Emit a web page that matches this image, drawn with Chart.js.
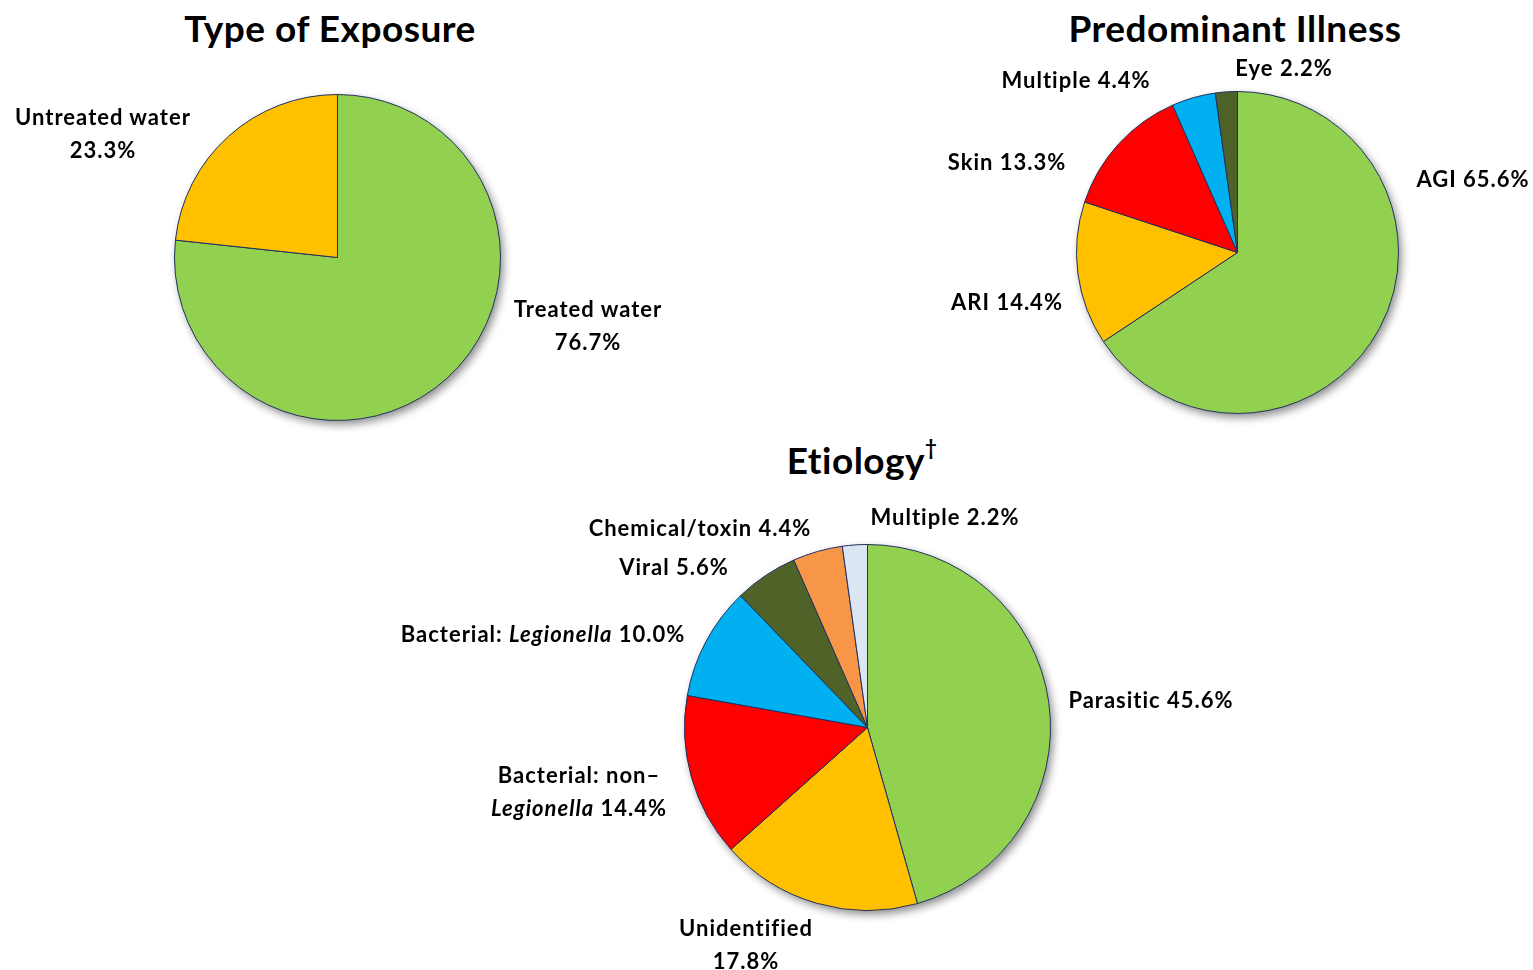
<!DOCTYPE html>
<html><head><meta charset="utf-8">
<script src="https://cdn.jsdelivr.net/npm/chart.js@4"></script>
<style>
html,body{margin:0;padding:0;background:#fff;width:1533px;height:970px;overflow:hidden;font-family:Lato,"Open Sans",sans-serif;}
canvas{position:absolute;}
.t{position:absolute;transform:translate(-50%,-50%);white-space:nowrap;font-weight:bold;color:#000;text-align:center;}
.title{font-size:37px;letter-spacing:0.5px;}
.lbl{font-size:22px;line-height:33px;letter-spacing:1px;}
sup{font-size:0.55em;vertical-align:top;position:relative;top:-2px;}
</style></head><body>
<script>
// ---- data ----
const exposureCats = ['Treated water', 'Untreated water'];
const exposureVals = [76.7, 23.3];
const illnessCats = ['AGI', 'ARI', 'Skin', 'Multiple', 'Eye'];
const illnessVals = [65.6, 14.4, 13.3, 4.4, 2.2];
const etiologyCats = ['Parasitic', 'Unidentified', 'Bacterial: non–Legionella', 'Bacterial: Legionella', 'Viral', 'Chemical/toxin', 'Multiple'];
const etiologyVals = [45.6, 17.8, 14.4, 10.0, 5.6, 4.4, 2.2];
const titles = ['Type of Exposure', 'Predominant Illness', 'Etiology'];

// ---- styles / layout ----
const exposureColors = ['#92D050', '#FFC000'];
const illnessColors = ['#92D050', '#FFC000', '#FF0000', '#00B0F0', '#4F6228'];
const etiologyColors = ['#92D050', '#FFC000', '#FF0000', '#00B0F0', '#4F6228', '#F79646', '#DCE6F2'];

const pies = [
  {id:'c1', cats:exposureCats, vals:exposureVals, colors:exposureColors, cx:337, cy:257, r:163,
   title:{x:330, y:27, sup:''},
   labels:[{x:588,y:325,brk:'value'},{x:103,y:133,brk:'value'}]},
  {id:'c2', cats:illnessCats, vals:illnessVals, colors:illnessColors, cx:1237, cy:252, r:161,
   title:{x:1235, y:27, sup:''},
   labels:[{x:1473,y:178},{x:1007,y:301},{x:1007,y:161},{x:1076,y:79},{x:1284,y:67}]},
  {id:'c3', cats:etiologyCats, vals:etiologyVals, colors:etiologyColors, cx:867, cy:727, r:183,
   title:{x:862, y:459, sup:'†'},
   labels:[{x:1151,y:699},{x:746,y:944,brk:'value'},{x:579,y:791,brk:'non–'},{x:543,y:633},{x:674,y:566},{x:700,y:527},{x:945,y:516}]}
];

const shadowPlugin = {
  id:'pieShadow',
  beforeDatasetsDraw(chart){
    const arc = chart.getDatasetMeta(0).data[0];
    if(!arc) return;
    const {x, y, outerRadius} = arc.getProps(['x','y','outerRadius'], true);
    const ctx = chart.ctx;
    ctx.save();
    ctx.shadowColor = 'rgba(0,0,0,0.45)';
    ctx.shadowBlur = 8;
    ctx.shadowOffsetX = 3;
    ctx.shadowOffsetY = 4;
    ctx.fillStyle = '#fff';
    ctx.beginPath();
    ctx.arc(x, y, outerRadius, 0, Math.PI*2);
    ctx.fill();
    ctx.restore();
  }
};

function esc(s){return s.replace(/&/g,'&amp;').replace(/</g,'&lt;');}
function fmt(cat, val, brk){
  let txt = esc(cat);
  const v = val.toFixed(1) + '%';
  let html;
  if(brk === 'value') html = txt + '<br>' + v;
  else if(brk) html = txt.replace(brk, brk + '<br>') + ' ' + v;
  else html = txt + ' ' + v;
  return html.replace(/Legionella/g, '<i>Legionella</i>');
}
function addDiv(cls, x, y, html){
  const d = document.createElement('div');
  d.className = 't ' + cls;
  d.style.left = x + 'px'; d.style.top = y + 'px';
  d.innerHTML = html;
  document.body.appendChild(d);
}

pies.forEach((p, i) => {
  const pad = 20;
  const size = 2*p.r + 2*pad + 1;
  const cv = document.createElement('canvas');
  cv.id = p.id;
  cv.width = size; cv.height = size;
  cv.style.left = (p.cx - p.r - pad - 0.5) + 'px';
  cv.style.top = (p.cy - p.r - pad - 0.5) + 'px';
  cv.style.width = size + 'px'; cv.style.height = size + 'px';
  document.body.appendChild(cv);
  new Chart(cv, {
    type:'pie',
    data:{labels:p.cats, datasets:[{data:p.vals, backgroundColor:p.colors, borderColor:'#1F2F5F', borderWidth:1}]},
    options:{
      responsive:false, animation:false, devicePixelRatio:1,
      layout:{padding:pad},
      plugins:{legend:{display:false}, tooltip:{enabled:false}, title:{display:false}}
    },
    plugins:[shadowPlugin]
  });
  addDiv('title', p.title.x, p.title.y, esc(titles[i]) + (p.title.sup ? '<sup>' + p.title.sup + '</sup>' : ''));
  p.labels.forEach((l, j) => addDiv('lbl', l.x, l.y, fmt(p.cats[j], p.vals[j], l.brk)));
});
</script>
</body></html>
